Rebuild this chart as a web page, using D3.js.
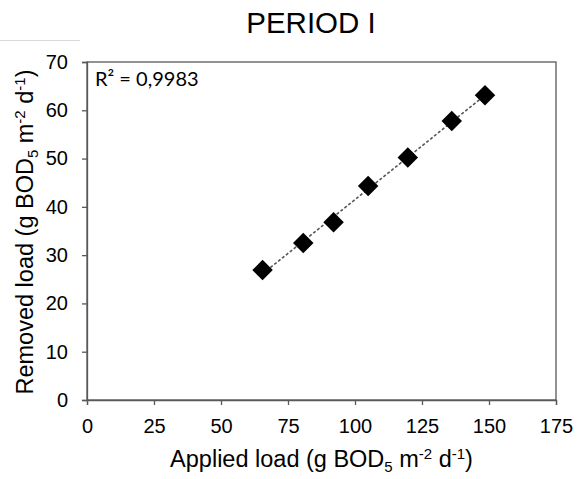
<!DOCTYPE html>
<html>
<head>
<meta charset="utf-8">
<script src="https://cdn.jsdelivr.net/npm/d3@7"></script>
<style>
  body { margin: 0; background: #fff; }
  text { font-family: "Liberation Sans", Arial, sans-serif; fill: #000; }
</style>
</head>
<body>
<div id="chart"></div>
<script>
// values
const appliedLoad = [65.5, 80.7, 92.0, 104.9, 119.7, 136.1, 148.5]
const removedLoad = [26.9, 32.5, 36.8, 44.3, 50.2, 57.8, 63.1]
const xTicks = [0, 25, 50, 75, 100, 125, 150, 175]
const yTicks = [0, 10, 20, 30, 40, 50, 60, 70]
const rSquared = '0,9983'
const title = 'PERIOD I'

const width = 579
const height = 479
const margin = {top: 62, right: 23, bottom: 79, left: 87}

const svg = d3.select('#chart').append('svg')
  .attr('width', width)
  .attr('height', height)

const x = d3.scaleLinear().domain([0, 175]).range([margin.left, width - margin.right])
const y = d3.scaleLinear().domain([0, 70]).range([height - margin.bottom, margin.top])

// faint line top-left (cropping leftover in the original)
svg.append('line')
  .attr('x1', 0).attr('x2', 80).attr('y1', 40.5).attr('y2', 40.5)
  .attr('stroke', '#d9d9d9').attr('stroke-width', 1)

// title
svg.append('text')
  .attr('x', 311).attr('y', 33)
  .attr('text-anchor', 'middle')
  .style('font-size', '29.5px')
  .text(title)

// frame
svg.append('rect')
  .attr('x', x(0)).attr('y', y(70))
  .attr('width', x(175) - x(0)).attr('height', y(0) - y(70))
  .attr('fill', 'none').attr('stroke', '#595959').attr('stroke-width', 1.3)

const xAxis = svg.append('g')
  .attr('transform', `translate(0,${y(0)})`)
  .call(d3.axisBottom(x).tickValues(xTicks).tickSize(5).tickPadding(14))
const yAxis = svg.append('g')
  .attr('transform', `translate(${x(0)},0)`)
  .call(d3.axisLeft(y).tickValues(yTicks).tickSize(5).tickPadding(14))

;[xAxis, yAxis].forEach(g => {
  g.select('.domain').attr('stroke', '#595959').attr('stroke-width', 1.3)
  g.selectAll('.tick line').attr('stroke', '#595959').attr('stroke-width', 1.3)
  g.selectAll('.tick text')
    .style('font-size', '20px')
    .style('font-family', '"Liberation Sans", Arial, sans-serif')
    .attr('fill', '#000')
})

// linear trend line
const mx = d3.mean(appliedLoad), my = d3.mean(removedLoad)
const slope = d3.sum(appliedLoad.map((v, i) => (v - mx) * (removedLoad[i] - my))) /
  d3.sum(appliedLoad.map(v => (v - mx) * (v - mx)))
const icpt = my - slope * mx
const xMin = d3.min(appliedLoad), xMax = d3.max(appliedLoad)
svg.append('line')
  .attr('x1', x(xMin)).attr('y1', y(icpt + slope * xMin))
  .attr('x2', x(xMax)).attr('y2', y(icpt + slope * xMax))
  .attr('stroke', '#555').attr('stroke-width', 1.6)
  .attr('stroke-dasharray', '3,2')

// markers
const diamond = d3.symbol().type(d3.symbolSquare).size(210)
svg.selectAll('.pt')
  .data(appliedLoad.map((v, i) => [v, removedLoad[i]]))
  .join('path')
  .attr('class', 'pt')
  .attr('d', diamond)
  .attr('transform', d => `translate(${x(d[0])},${y(d[1])}) rotate(45)`)
  .attr('fill', '#000')

// R² label
svg.append('text')
  .attr('x', 95).attr('y', 86)
  .style('font-family', 'Lato, "Open Sans", sans-serif')
  .style('font-size', '20px')
  .attr('fill', '#262626')
  .text('R² = ' + rSquared)

// axis titles
function unitLabel(sel, name) {
  sel.append('tspan').text(name + ' (g BOD')
  sel.append('tspan').text('5').style('font-size', '15px').attr('dy', 5)
  sel.append('tspan').text(' m').attr('dy', -5)
  sel.append('tspan').text('-2').style('font-size', '15px').attr('dy', -8)
  sel.append('tspan').text(' d').attr('dy', 8)
  sel.append('tspan').text('-1').style('font-size', '15px').attr('dy', -8)
  sel.append('tspan').text(')').attr('dy', 8)
}

const xt = svg.append('text')
  .attr('x', (x(0) + x(175)) / 2).attr('y', 467)
  .attr('text-anchor', 'middle')
  .style('font-size', '23.5px')
unitLabel(xt, 'Applied load')

const yt = svg.append('text')
  .attr('transform', 'translate(33,232) rotate(-90)')
  .attr('text-anchor', 'middle')
  .style('font-size', '23.5px')
unitLabel(yt, 'Removed load')
</script>
</body>
</html>
